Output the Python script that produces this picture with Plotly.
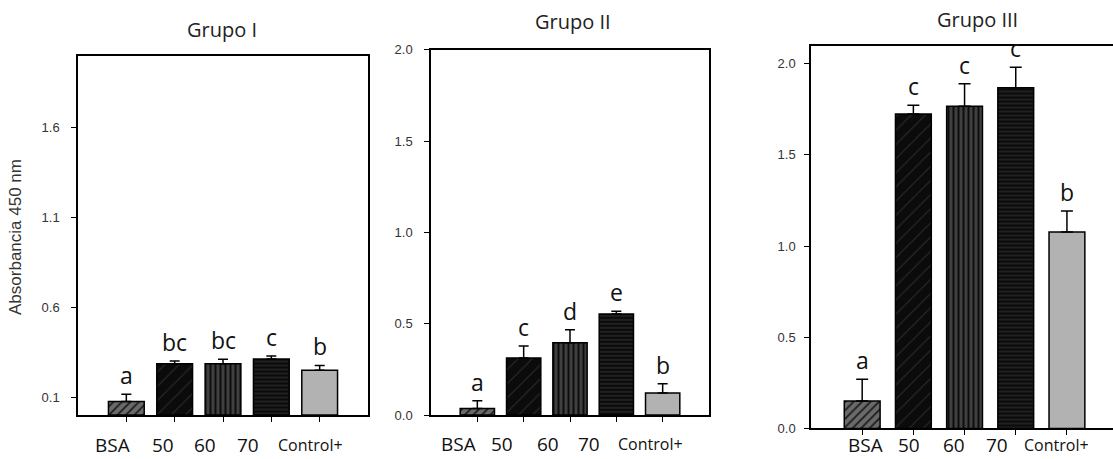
import plotly.graph_objects as go

W, H = 1113, 459

categories = ["BSA", "50", "60", "70", "Control+"]
titles = ["Grupo I", "Grupo II", "Grupo III"]

g1_vals = [0.076, 0.286, 0.286, 0.312, 0.250]
g1_err = [0.040, 0.015, 0.024, 0.017, 0.026]
g1_letters = ["a", "bc", "bc", "c", "b"]

g2_vals = [0.036, 0.313, 0.396, 0.553, 0.121]
g2_err = [0.043, 0.066, 0.071, 0.015, 0.050]
g2_letters = ["a", "c", "d", "e", "b"]

g3_vals = [0.150, 1.725, 1.767, 1.868, 1.077]
g3_err = [0.120, 0.048, 0.124, 0.113, 0.116]
g3_letters = ["a", "c", "c", "c", "b"]

g1_yticks = [0.1, 0.6, 1.1, 1.6]
g2_yticks = [0.0, 0.5, 1.0, 1.5, 2.0]
g3_yticks = [0.0, 0.5, 1.0, 1.5, 2.0]

# the captured page is vertically offset/compressed slightly; compensate
S, OFF = 0.9666, 7.2


def py(y):
    return (y - OFF) / S


panels = [
    dict(vals=g1_vals, err=g1_err, letters=g1_letters, yticks=g1_yticks,
         x0=78, x1=368, ytop=55.7, ybot=415, yrange=[0, 2.0], xrange=[-1, 5],
         mirror=True, standoff=9, lab_y=445, lab_dx=[-14, -12, -18, -23, -9],
         title_x=222, title_y=30, bw=0.74, cap=5),
    dict(vals=g2_vals, err=g2_err, letters=g2_letters, yticks=g2_yticks,
         x0=431, x1=709, ytop=50, ybot=415, yrange=[0, 2.0], xrange=[-1, 5],
         mirror=True, standoff=9, lab_y=442, lab_dx=[-19, -22, -22, -27, -12],
         title_x=573, title_y=22, bw=0.74, cap=5),
    dict(vals=g3_vals, err=g3_err, letters=g3_letters, yticks=g3_yticks,
         x0=811, x1=1113, ytop=45.7, ybot=428.3, yrange=[0, 2.1], xrange=[-1, 4.9],
         mirror=False, standoff=6, lab_y=451, lab_dx=[3, -4, -11, -19, -10],
         title_x=977, title_y=20, bw=0.70, cap=6),
]

pattern_shapes = ["/", "/", "|", "-", ""]
bg_colors = ["#6a6a6a", "#0b0b0b", "#404040", "#0b0b0b", "#b2b2b2"]
fg_colors = ["#1c1c1c", "#2c2c2c", "#0e0e0e", "#2e2e2e", "#b2b2b2"]
pat_sizes = [6, 10, 5, 4, 8]
pat_solid = [0.3, 0.1, 0.4, 0.3, 0.3]

fig = go.Figure()
annotations = []

for i, p in enumerate(panels):
    n = "" if i == 0 else str(i + 1)
    xa, ya = "x" + n, "y" + n
    xs = list(range(len(categories)))
    for j in xs:
        pat = dict(shape=pattern_shapes[j], bgcolor=bg_colors[j], fgcolor=fg_colors[j],
                   fgopacity=1, size=pat_sizes[j], solidity=pat_solid[j],
                   fillmode="replace")
        fig.add_trace(go.Bar(
            x=[j], y=[p["vals"][j]], xaxis=xa, yaxis=ya, width=p["bw"],
            marker=dict(color=bg_colors[j], line=dict(color="black", width=1.5),
                        pattern=pat),
            error_y=dict(type="data", symmetric=False, array=[p["err"][j]],
                         arrayminus=[0], color="black", thickness=1.5,
                         width=p["cap"]),
            showlegend=False, hoverinfo="skip",
        ))
    ybot_in, ytop_in = py(p["ybot"]), py(p["ytop"])
    dom_x = [p["x0"] / W, min(p["x1"] / W, 1.0)]
    dom_y = [(H - ybot_in) / H, (H - ytop_in) / H]
    fig.layout["xaxis" + n] = dict(
        domain=dom_x, range=p["xrange"], anchor=ya, showgrid=False, zeroline=False,
        tickvals=xs, ticktext=[""] * len(xs), ticks="outside", ticklen=5,
        tickwidth=1.2, tickcolor="black", showline=True, linecolor="black",
        linewidth=1.5, mirror=True, fixedrange=True)
    fig.layout["yaxis" + n] = dict(
        domain=dom_y, range=p["yrange"], anchor=xa, showgrid=False, zeroline=False,
        tickvals=p["yticks"], ticktext=[format(v, ".1f") for v in p["yticks"]],
        ticks="outside", ticklen=5, tickwidth=1.2, tickcolor="black",
        showline=True, linecolor="black", linewidth=1.5, mirror=p["mirror"],
        tickfont=dict(family="Arial", size=13, color="#333"),
        ticklabelstandoff=p["standoff"], fixedrange=True)

    for j, (v, e, L) in enumerate(zip(p["vals"], p["err"], p["letters"])):
        annotations.append(dict(
            x=j, y=v + e, xref=xa, yref=ya, text=L, showarrow=False,
            yanchor="bottom", yshift=1,
            font=dict(family="Open Sans", size=23, color="#111")))
    lab_in = min(py(p["lab_y"]), 451.5)
    for j, c in enumerate(categories):
        size = 16 if c == "Control+" else 19
        annotations.append(dict(
            x=j, y=0, xref=xa, yref=ya + " domain", text=c, showarrow=False,
            yanchor="middle", xanchor="center", yshift=-(lab_in - ybot_in),
            xshift=p["lab_dx"][j], height=15,
            font=dict(family="Open Sans", size=size, color="#111")))
    annotations.append(dict(
        x=p["title_x"] / W, y=1 - py(p["title_y"]) / H, xref="paper", yref="paper",
        text=titles[i], showarrow=False, xanchor="center", yanchor="middle",
        font=dict(family="Open Sans", size=20, color="#222")))

annotations.append(dict(
    x=16 / W, y=1 - py(237) / H, xref="paper", yref="paper", text="Absorbancia 450 nm",
    showarrow=False, textangle=-90, xanchor="center", yanchor="middle",
    font=dict(family="Arial", size=17, color="#333")))

fig.update_layout(
    width=W, height=H, margin=dict(l=0, r=0, t=0, b=0),
    paper_bgcolor="white", plot_bgcolor="white", barmode="overlay",
    annotations=annotations,
)

post = (
    "var de=document.documentElement, b=document.body;"
    "de.style.margin='0';de.style.padding='0';de.style.overflow='hidden';"
    "b.style.margin='0';b.style.padding='0';b.style.overflow='hidden';"
)

fig.write_html("out.html", config={"displayModeBar": False}, post_script=post)
